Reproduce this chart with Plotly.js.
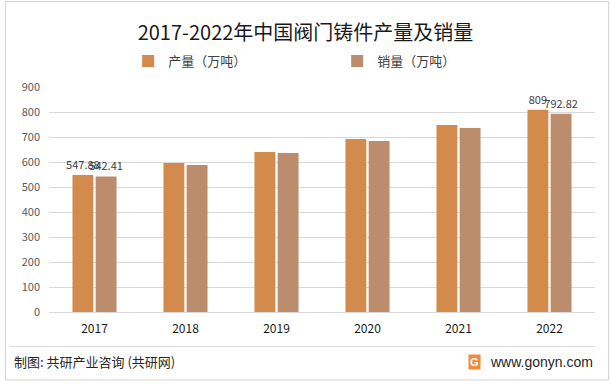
<!DOCTYPE html>
<html><head><meta charset="utf-8">
<script src="https://cdn.plot.ly/plotly-3.0.1.min.js"></script>
<style>html,body{margin:0;padding:0;background:#fff}#c{width:611px;height:384px}</style>
</head><body><div id="c"></div>
<script>
const years = ['2017','2018','2019','2020','2021','2022'];
const production = [547.88, 596, 640, 692, 748, 809];
const sales = [542.41, 588, 636, 684, 736, 792.82];
const prodLabels = ['547.88','','','','','809'];
const salesLabels = ['542.41','','','','','792.82'];
const yTicks = [0,100,200,300,400,500,600,700,800,900];

const font = "Noto Sans CJK SC, Liberation Sans, sans-serif";
const traces = [
  {type:'bar', name:'产量（万吨）', x:years, y:production, text:prodLabels,
   textposition:'outside', cliponaxis:false, constraintext:'none', marker:{color:'#D38B4D'},
   textfont:{size:11,color:'#404040',family:font}},
  {type:'bar', name:'销量（万吨）', x:years, y:sales, text:salesLabels,
   textposition:'outside', cliponaxis:false, constraintext:'none', marker:{color:'#BC8D6C'},
   textfont:{size:11,color:'#404040',family:font}}
];
const layout = {
  width:611, height:384,
  margin:{l:49,r:16,t:87,b:72},
  paper_bgcolor:'#fff', plot_bgcolor:'#fff',
  font:{family:font,color:'#404040'},
  title:{text:'2017-2022年中国阀门铸件产量及销量', x:0.5, xanchor:'center', y:0.915, yanchor:'middle',
    font:{size:20,color:'#1a1a1a',family:font}},
  showlegend:true,
  legend:{orientation:'h', x:0.145, xanchor:'left', y:1.115, yanchor:'middle',
    font:{size:13,color:'#404040',family:font}, traceorder:'normal',
    entrywidth:164, entrywidthmode:'pixels', itemwidth:30},
  barmode:'group', bargap:0.49, bargroupgap:0.1,
  xaxis:{type:'category', showgrid:false, zeroline:false, showline:false, ticks:'',
    tickfont:{size:12,color:'#1a1a1a',family:font}, ticklabelstandoff:8},
  yaxis:{range:[0,900], tickvals:yTicks, showgrid:true, gridcolor:'#d9d9d9', gridwidth:1,
    zeroline:true, zerolinecolor:'#d9d9d9', showline:false, ticks:'',
    tickfont:{size:11,color:'#595959',family:font}, ticklabelstandoff:8},
  shapes:[
    {type:'rect', xref:'paper', yref:'paper', x0:-0.08, x1:1.025, y0:-0.302, y1:1.38,
      line:{color:'#d0d0d0',width:1}, fillcolor:'rgba(0,0,0,0)'},
    {type:'line', xref:'paper', yref:'paper', x0:-0.072, x1:1.0, y0:-0.153, y1:-0.153,
      line:{color:'#d9d9d9',width:1}}
  ],
  annotations:[
    {text:'制图: 共研产业咨询 (共研网)', xref:'paper', yref:'paper', x:-0.068, y:-0.222,
      xanchor:'left', yanchor:'middle', showarrow:false, font:{size:13,color:'#262626',family:font}},
    {text:'www.gonyn.com', xref:'paper', yref:'paper', x:1.0, y:-0.222,
      xanchor:'right', yanchor:'middle', showarrow:false, font:{size:14,color:'#262626',family:'Liberation Sans, sans-serif'}},
    {text:'<b>G</b>', xref:'paper', yref:'paper', x:0.78, y:-0.222,
      xanchor:'center', yanchor:'middle', showarrow:false, bgcolor:'#F08A3C',
      font:{size:11,color:'#fff',family:'Liberation Sans, sans-serif'}, borderpad:1}
  ]
};
Plotly.newPlot('c', traces, layout, {displayModeBar:false, staticPlot:true});
</script></body></html>
